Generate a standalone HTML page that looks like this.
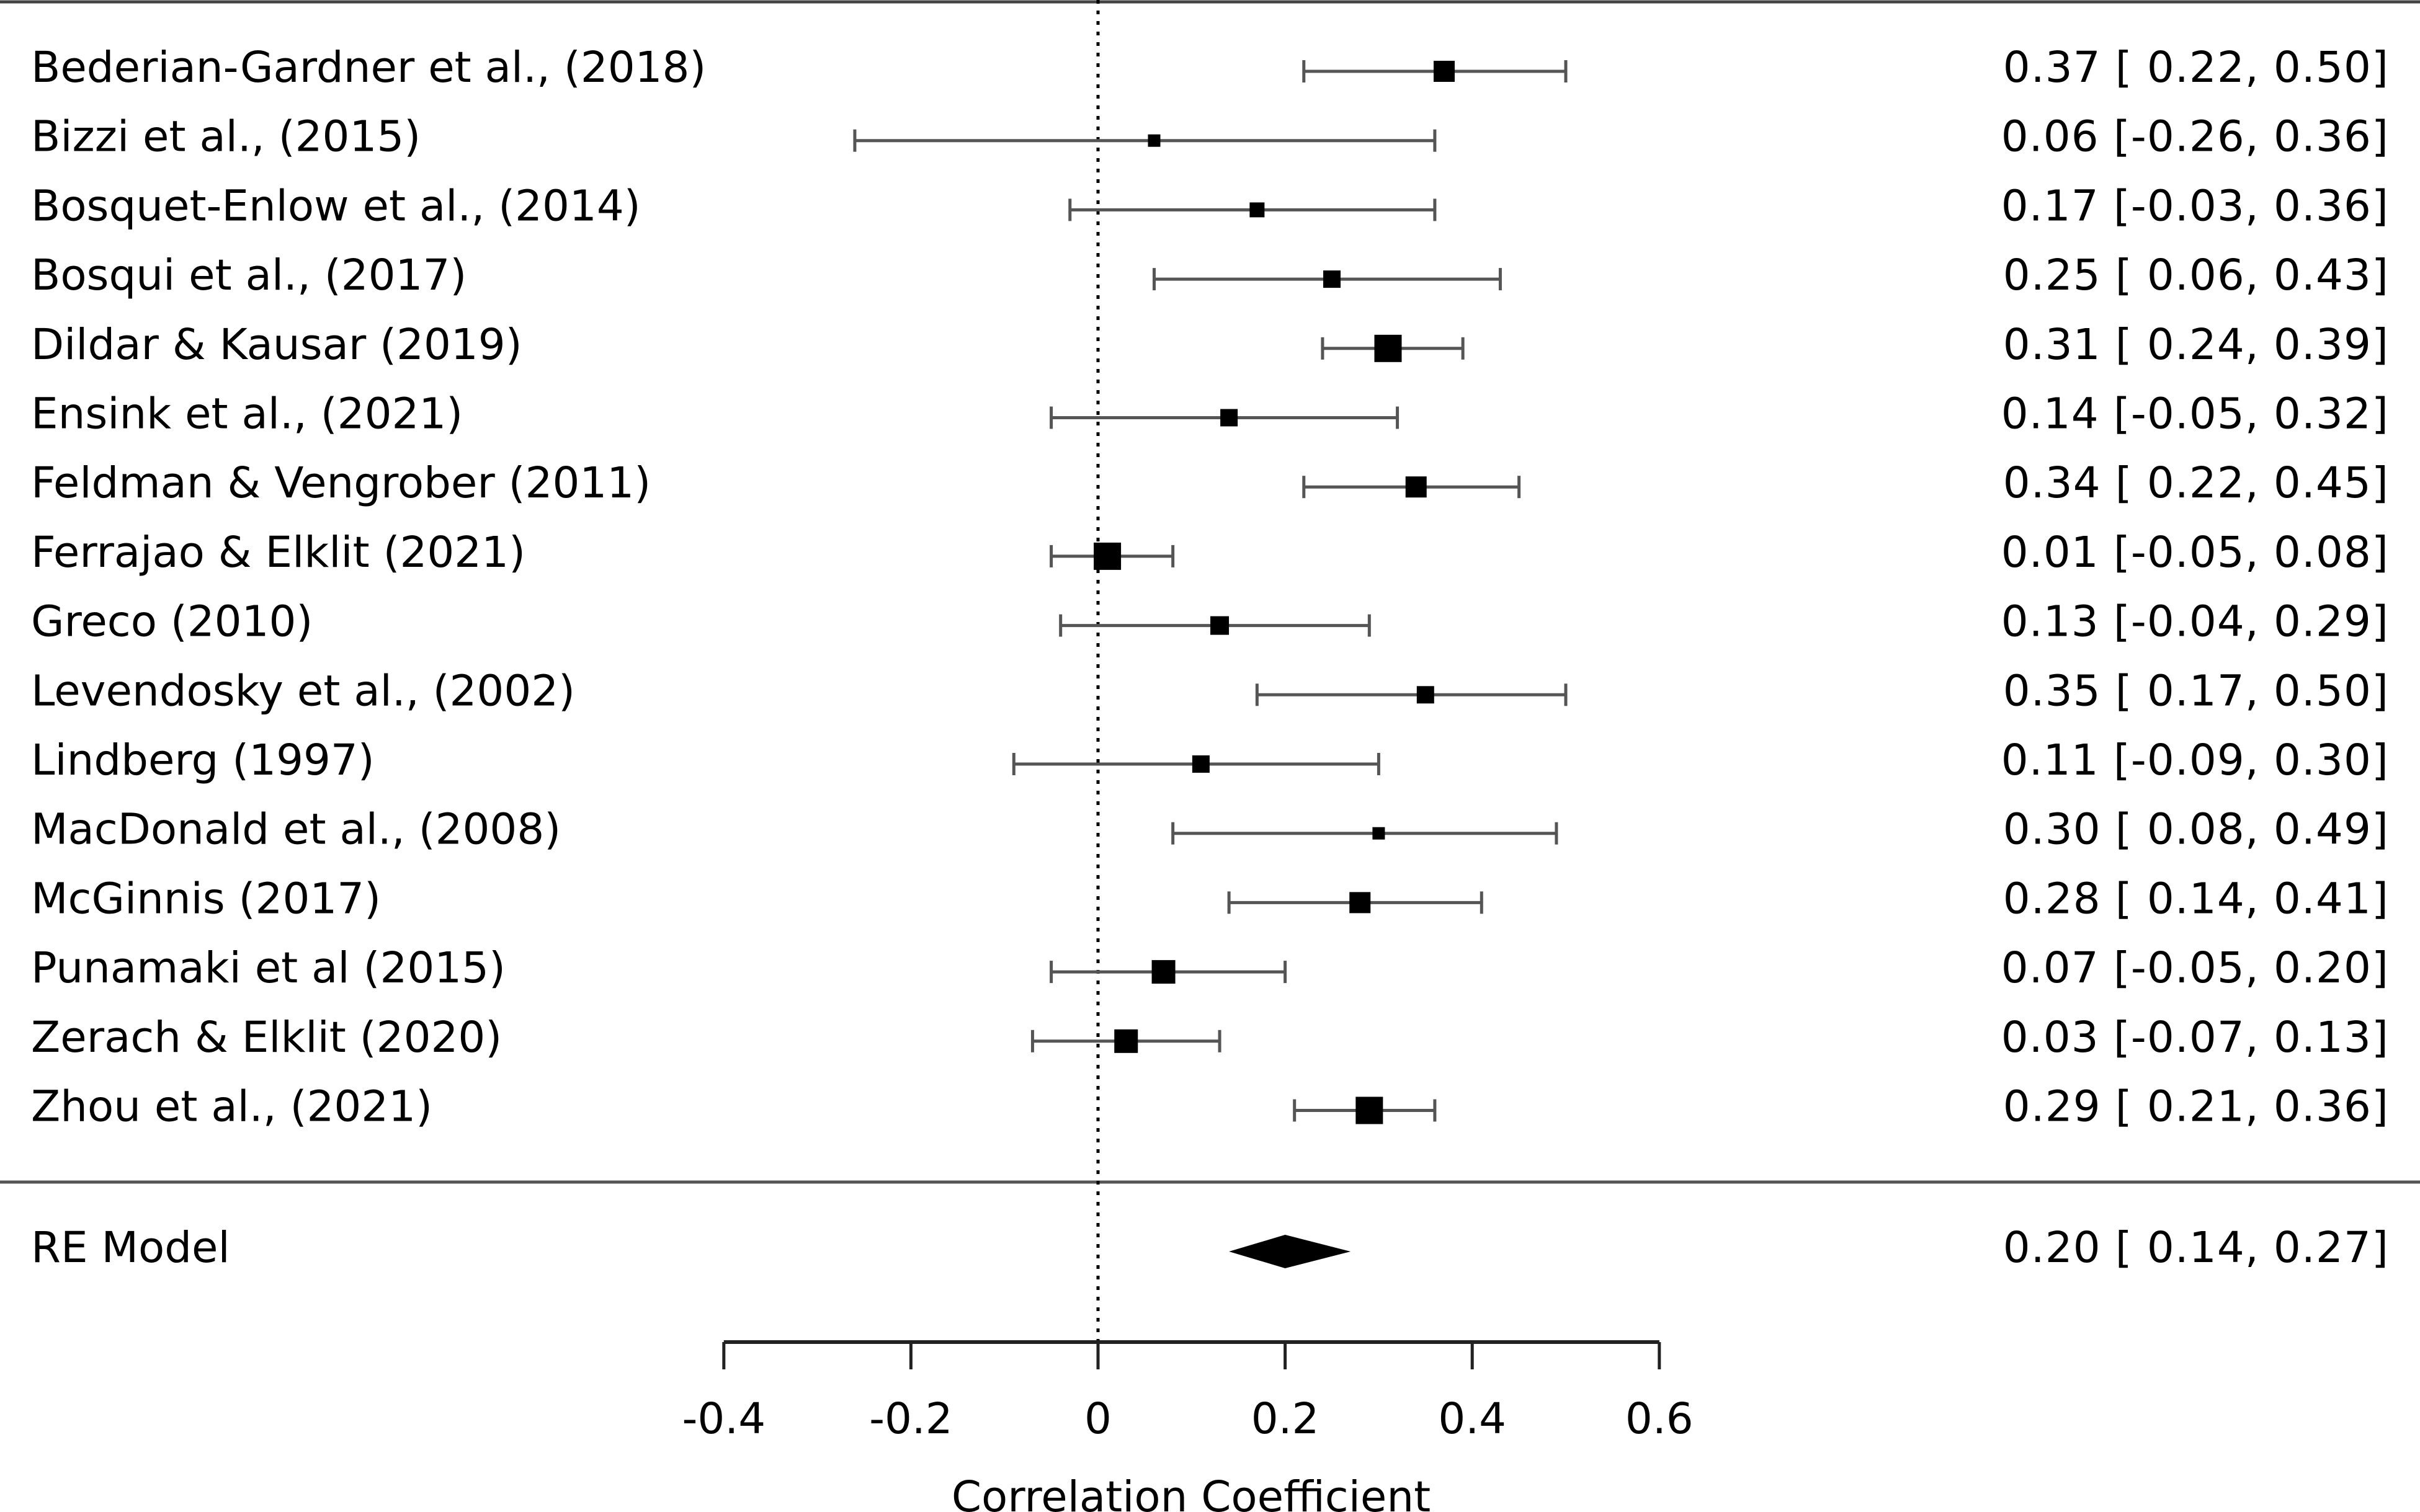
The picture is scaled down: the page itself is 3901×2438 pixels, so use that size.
<!DOCTYPE html>
<html><head><meta charset="utf-8"><style>
html,body{margin:0;padding:0;background:#fff;}
svg{display:block;}
text{font-family:"DejaVu Sans","Liberation Sans",sans-serif;font-size:69px;fill:#000;}
.ci{letter-spacing:1.1px;}
</style></head><body>
<svg id="chart" width="3901" height="2438" viewBox="0 0 3901 2438" xmlns="http://www.w3.org/2000/svg">
<line x1="0" y1="3" x2="3901" y2="3" stroke="#444" stroke-width="5"/>
<line x1="0" y1="1906" x2="3901" y2="1906" stroke="#555" stroke-width="5"/>
<g id="plot"></g>
<text x="1920" y="2437" text-anchor="middle">Correlation Coefficient</text>
</svg>
<script>
const studies = ["Bederian-Gardner et al., (2018)","Bizzi et al., (2015)","Bosquet-Enlow et al., (2014)","Bosqui et al., (2017)","Dildar & Kausar (2019)","Ensink et al., (2021)","Feldman & Vengrober (2011)","Ferrajao & Elklit (2021)","Greco (2010)","Levendosky et al., (2002)","Lindberg (1997)","MacDonald et al., (2008)","McGinnis (2017)","Punamaki et al (2015)","Zerach & Elklit (2020)","Zhou et al., (2021)"];
const estimates = [0.37,0.06,0.17,0.25,0.31,0.14,0.34,0.01,0.13,0.35,0.11,0.30,0.28,0.07,0.03,0.29];
const lower = [0.22,-0.26,-0.03,0.06,0.24,-0.05,0.22,-0.05,-0.04,0.17,-0.09,0.08,0.14,-0.05,-0.07,0.21];
const upper = [0.50,0.36,0.36,0.43,0.39,0.32,0.45,0.08,0.29,0.50,0.30,0.49,0.41,0.20,0.13,0.36];
const weights = [17,10,12,14,22,14,17,22,15,14,14,10,17,19,19,22];
const modelEst = 0.20, modelLo = 0.14, modelHi = 0.27;
const ticks = [-0.4,-0.2,0,0.2,0.4,0.6];
const tickLabels = ["-0.4","-0.2","0","0.2","0.4","0.6"];

const NS="http://www.w3.org/2000/svg";
const g=document.getElementById('plot');
const xs=v=>1770+v*1508;
const ys=i=>115+i*111.7;
function mk(tag,attrs){const e=document.createElementNS(NS,tag);for(const k in attrs)e.setAttribute(k,attrs[k]);g.appendChild(e);return e;}
const f=v=>{const s=v.toFixed(2);return v<0?s:" "+s;};
const ciText=(e,l,u)=>e.toFixed(2)+" ["+f(l)+", "+u.toFixed(2)+"]";

const ref=mk('line',{x1:xs(0),y1:0,x2:xs(0),y2:2164,stroke:'#000','stroke-width':5,'stroke-dasharray':'6 11'});



studies.forEach((s,i)=>{
  const y=ys(i);
  const lab=mk('text',{x:50,y:y+17});lab.textContent=s;
  
  
  const ci=mk('line',{x1:xs(lower[i]),y1:y,x2:xs(upper[i]),y2:y,stroke:'#555','stroke-width':5});
  
  
  [lower[i],upper[i]].forEach(v=>{
    const c=mk('line',{x1:xs(v),y1:y-18,x2:xs(v),y2:y+18,stroke:'#555','stroke-width':5});
    
    
  });
  const w=weights[i];
  const sq=mk('rect',{x:xs(estimates[i])-w,y:y-w,width:2*w,height:2*w,fill:'#000'});
  
  
  const r=mk('text',{x:3851,y:y+17,'text-anchor':'end','class':'ci'});
  r.style.whiteSpace='pre';
  r.textContent=ciText(estimates[i],lower[i],upper[i]);
  
  
});

const my=2018;
const ml=mk('text',{x:50,y:my+17});ml.textContent="RE Model";


const dia=mk('polygon',{points:`${xs(modelLo)},${my} ${xs(modelEst)},${my-27} ${xs(modelHi)},${my} ${xs(modelEst)},${my+27}`,fill:'#000'});


const mt=mk('text',{x:3851,y:my+17,'text-anchor':'end','class':'ci'});
mt.style.whiteSpace='pre';
mt.textContent=ciText(modelEst,modelLo,modelHi);



const ax=mk('line',{x1:xs(ticks[0]),y1:2164,x2:xs(ticks[ticks.length-1]),y2:2164,stroke:'#222','stroke-width':6});


ticks.forEach((t,i)=>{
  const tk=mk('line',{x1:xs(t),y1:2164,x2:xs(t),y2:2208,stroke:'#222','stroke-width':5});
  
  
  const tl=mk('text',{x:xs(t),y:2311,'text-anchor':'middle'});tl.textContent=tickLabels[i];
  
  
});
</script>
</body></html>
